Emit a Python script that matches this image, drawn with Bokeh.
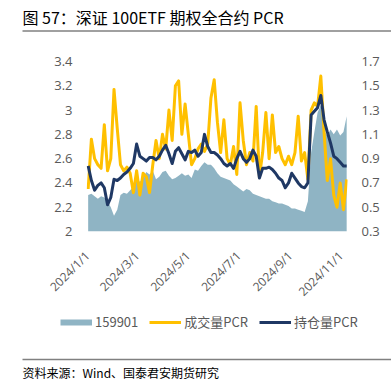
import pandas as pd
from bokeh.plotting import figure
from bokeh.layouts import column
from bokeh.models import (Range1d, LinearAxis, FixedTicker, CustomJSTickFormatter,
                          Legend, LegendItem, Label, ColumnDataSource)
from bokeh.embed import file_html
from bokeh.resources import INLINE

# ---------------- data ----------------
title_text = "图 57：深证 100ETF 期权全合约 PCR"
source_text = "资料来源：Wind、国泰君安期货研究"
series_names = ["159901", "成交量PCR", "持仓量PCR"]
start_date = "2024-01-02"
end_date = "2024-11-08"

price_159901 = [2.30, 2.31, 2.29, 2.27, 2.29, 2.28, 2.25, 2.20, 2.13, 2.18,
                2.30, 2.32, 2.31, 2.34, 2.37, 2.43, 2.41, 2.44, 2.49, 2.47,
                2.50, 2.43, 2.45, 2.49, 2.50, 2.46, 2.43, 2.44, 2.46, 2.48,
                2.46, 2.47, 2.44, 2.51, 2.50, 2.54, 2.57, 2.55, 2.55, 2.52,
                2.48, 2.45, 2.44, 2.43, 2.42, 2.39, 2.37, 2.35, 2.33, 2.35,
                2.34, 2.31, 2.30, 2.29, 2.28, 2.27, 2.27, 2.25, 2.24, 2.23,
                2.23, 2.22, 2.21, 2.19, 2.19, 2.18, 2.17, 2.16, 2.25, 2.65,
                2.82, 2.98, 3.04, 2.83, 2.79, 2.84, 2.80, 2.84, 2.79, 2.82,
                2.95]

volume_pcr = [0.65, 1.06, 0.90, 0.85, 0.82, 1.18, 0.80, 0.90, 1.47, 1.15,
              0.85, 0.80, 0.83, 0.78, 0.62, 0.80, 0.60, 0.78, 0.75, 0.62,
              0.85, 1.05, 0.90, 1.10, 0.98, 1.30, 1.05, 1.50, 1.54, 1.10,
              1.35, 1.10, 0.85, 0.90, 0.98, 1.02, 0.96, 1.02, 1.40, 1.55,
              1.20, 0.95, 1.22, 0.90, 0.85, 1.00, 0.77, 1.36, 1.05, 0.85,
              0.95, 0.88, 1.33, 0.75, 0.95, 1.28, 0.90, 1.26, 0.95, 1.00,
              0.90, 0.85, 0.92, 0.85, 0.95, 1.25, 0.88, 0.95, 0.73, 1.30,
              1.36, 1.33, 1.58, 1.12, 0.72, 0.90, 0.60, 0.50, 0.70, 0.48,
              0.73]

oi_pcr = [0.84, 0.72, 0.64, 0.68, 0.70, 0.66, 0.52, 0.58, 0.73, 0.72,
          0.74, 0.77, 0.79, 0.82, 0.86, 1.02, 0.92, 0.90, 0.88, 0.91,
          0.91, 0.89, 0.92, 0.97, 1.01, 0.94, 0.86, 0.96, 0.99, 0.94,
          0.89, 0.96, 0.95, 0.97, 0.92, 0.95, 1.10, 1.00, 0.95, 0.95,
          0.93, 0.90, 0.86, 0.84, 0.86, 0.82, 0.90, 0.96, 0.90, 0.87,
          0.90, 0.97, 0.92, 0.74, 0.82, 0.82, 0.83, 0.81, 0.78, 0.74,
          0.72, 0.66, 0.70, 0.78, 0.74, 0.70, 0.67, 0.66, 0.70, 1.26,
          1.29, 1.32, 1.42, 1.22, 1.12, 1.03, 0.92, 0.90, 0.87, 0.84,
          0.84]

left_ticks = [2.0, 2.2, 2.4, 2.6, 2.8, 3.0, 3.2, 3.4]
right_ticks = [0.3, 0.5, 0.7, 0.9, 1.1, 1.3, 1.5, 1.7]
x_tick_dates = ["2024-01-01", "2024-03-01", "2024-05-01",
                "2024-07-01", "2024-09-01", "2024-11-01"]

# ---------------- styles ----------------
AREA = "#8FB4C4"
YELLOW = "#FFC000"
NAVY = "#1F3864"
GRAY_TXT = "#595959"
RULE = "#808080"
CJK = "Noto Sans CJK SC"
TICK_FONT = "Open Sans"
W = 391
NAN = float("nan")


def blank(height):
    f = figure(width=W, height=height, x_range=Range1d(0, W), y_range=Range1d(0, height),
               x_axis_location=None, y_axis_location=None,
               output_backend="svg", toolbar_location=None, min_border=0,
               frame_align=False)
    f.outline_line_color = None
    f.grid.visible = False
    f.background_fill_color = "white"
    f.border_fill_color = "white"
    return f


# ---------------- header (page y 0..36) ----------------
head = blank(36)
head.add_layout(Label(x=22, y=19.5, text=title_text, text_font=CJK,
                      text_font_size="16px", text_color="#000000",
                      text_baseline="middle"))
head.line(x=[22, W], y=[5.5, 5.5], line_color=RULE, line_width=1.6)

# ---------------- main chart (page y 36..308) ----------------
dates = pd.date_range(start_date, end_date, periods=len(price_159901))
src = ColumnDataSource(dict(date=dates, price=price_159901,
                            vol=volume_pcr, oi=oi_pcr))

p = figure(width=W, height=272, x_axis_type="datetime",
           output_backend="svg", toolbar_location=None, frame_align=False,
           x_range=Range1d(pd.Timestamp("2023-12-31"), pd.Timestamp("2024-11-09")),
           y_range=Range1d(2.0, 3.4),
           min_border_left=86, min_border_right=W - 347,
           min_border_top=25, min_border_bottom=75)
p.extra_y_ranges = {"pcr": Range1d(0.3, 1.7)}
p.background_fill_color = "white"
p.border_fill_color = "white"
p.outline_line_color = None
p.grid.visible = False

area = p.varea(x="date", y1=2.0, y2="price", source=src, fill_color=AREA)
vol_line = p.line(x="date", y="vol", source=src, y_range_name="pcr",
                  line_color=YELLOW, line_width=3, line_join="round")
oi_line = p.line(x="date", y="oi", source=src, y_range_name="pcr",
                 line_color=NAVY, line_width=3, line_join="round")

right_axis = LinearAxis(y_range_name="pcr")
p.add_layout(right_axis, "right")

for ax in p.yaxis:
    ax.axis_line_color = None
    ax.major_tick_line_color = None
    ax.minor_tick_line_color = None
    ax.major_tick_out = 0
    ax.major_tick_in = 0
    ax.minor_tick_out = 0
    ax.major_label_standoff = 14
    ax.major_label_text_font = TICK_FONT
    ax.major_label_text_font_size = "13px"
    ax.major_label_text_color = GRAY_TXT
    ax.formatter = CustomJSTickFormatter(code="return (Math.round(tick*10)/10).toString();")

p.yaxis[0].ticker = FixedTicker(ticks=left_ticks)
right_axis.ticker = FixedTicker(ticks=right_ticks)

xa = p.xaxis[0]
xa.ticker = FixedTicker(ticks=[pd.Timestamp(d).timestamp() * 1000 for d in x_tick_dates])
xa.formatter = CustomJSTickFormatter(code="""
const d = new Date(tick);
return d.getUTCFullYear() + "/" + (d.getUTCMonth() + 1) + "/" + d.getUTCDate();
""")
xa.major_label_orientation = 0.7854
xa.axis_line_color = None
xa.major_tick_line_color = None
xa.minor_tick_line_color = None
xa.major_tick_out = 0
xa.major_tick_in = 0
xa.minor_tick_out = 0
xa.major_label_standoff = 22
xa.major_label_text_font = TICK_FONT
xa.major_label_text_font_size = "12px"
xa.major_label_text_color = GRAY_TXT

# ---------------- footer: legend, rule, source (page y 308..384) ----------------
foot = blank(76)
sw_area = foot.line(x=[NAN, NAN], y=[NAN, NAN], line_color=AREA, line_width=6)
sw_vol = foot.line(x=[NAN, NAN], y=[NAN, NAN], line_color=YELLOW, line_width=3)
sw_oi = foot.line(x=[NAN, NAN], y=[NAN, NAN], line_color=NAVY, line_width=3)
legend = Legend(items=[LegendItem(label=series_names[0], renderers=[sw_area]),
                       LegendItem(label=series_names[1], renderers=[sw_vol]),
                       LegendItem(label=series_names[2], renderers=[sw_oi])],
                orientation="horizontal", location=(60, 53),
                glyph_width=32, glyph_height=16, label_height=16,
                label_standoff=3, spacing=11, padding=0, margin=0,
                border_line_color=None, background_fill_alpha=0,
                label_text_font=CJK, label_text_font_size="13px",
                label_text_color=GRAY_TXT)
foot.add_layout(legend)
foot.line(x=[22, W], y=[25, 25], line_color=RULE, line_width=1.6)
foot.add_layout(Label(x=22, y=12, text=source_text, text_font=CJK,
                      text_font_size="12px", text_color="#000000",
                      text_baseline="middle"))

layout = column(head, p, foot, spacing=0)
open("out.html", "w").write(file_html(layout, INLINE))
